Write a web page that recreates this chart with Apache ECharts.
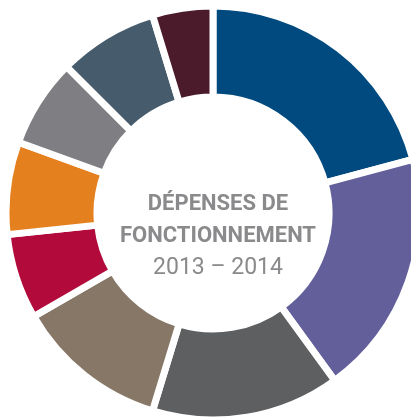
<!DOCTYPE html>
<html>
<head>
<meta charset="utf-8">
<script src="https://cdn.jsdelivr.net/npm/echarts@6/dist/echarts.min.js"></script>
<style>
  html, body { margin: 0; padding: 0; background: #fff; }
  #chart { width: 411px; height: 420px; }
</style>
</head>
<body>
<div id="chart"></div>
<script>
// postes de dépenses (en degrés du cercle)
var postes = ['Poste 1', 'Poste 2', 'Poste 3', 'Poste 4', 'Poste 5', 'Poste 6', 'Poste 7', 'Poste 8', 'Poste 9'];
var valeurs = [75, 69, 53, 43, 24, 26, 25, 28, 17];
var couleurs = ['#004a7f', '#625f9b', '#5e5f61', '#877767', '#b10a3b', '#e5801f', '#7f7f83', '#465c6c', '#4b1a2b'];

var myChart = echarts.init(document.getElementById('chart'));

var option = {
  backgroundColor: '#fff',
  animation: false,
  title: {
    text: '{b|DÉPENSES DE}\n{b|FONCTIONNEMENT}\n{r|2013 – 2014}',
    left: 213,
    top: 183,
    textAlign: 'center',
    textStyle: {
      rich: {
        b: { fontFamily: 'Roboto', fontWeight: 'bold', fontSize: 22, color: '#8a8a8c', lineHeight: 32 },
        r: { fontFamily: 'Roboto', fontWeight: 'normal', fontSize: 23, color: '#8a8a8c', lineHeight: 33 }
      }
    }
  },
  series: [
    {
      type: 'pie',
      center: [213, 213],
      radius: [116, 207],
      startAngle: 90,
      label: { show: false },
      labelLine: { show: false },
      itemStyle: { borderColor: '#fff', borderWidth: 7 },
      data: postes.map(function (p, i) {
        return { name: p, value: valeurs[i], itemStyle: { color: couleurs[i] } };
      })
    }
  ]
};

myChart.setOption(option);
</script>
</body>
</html>
